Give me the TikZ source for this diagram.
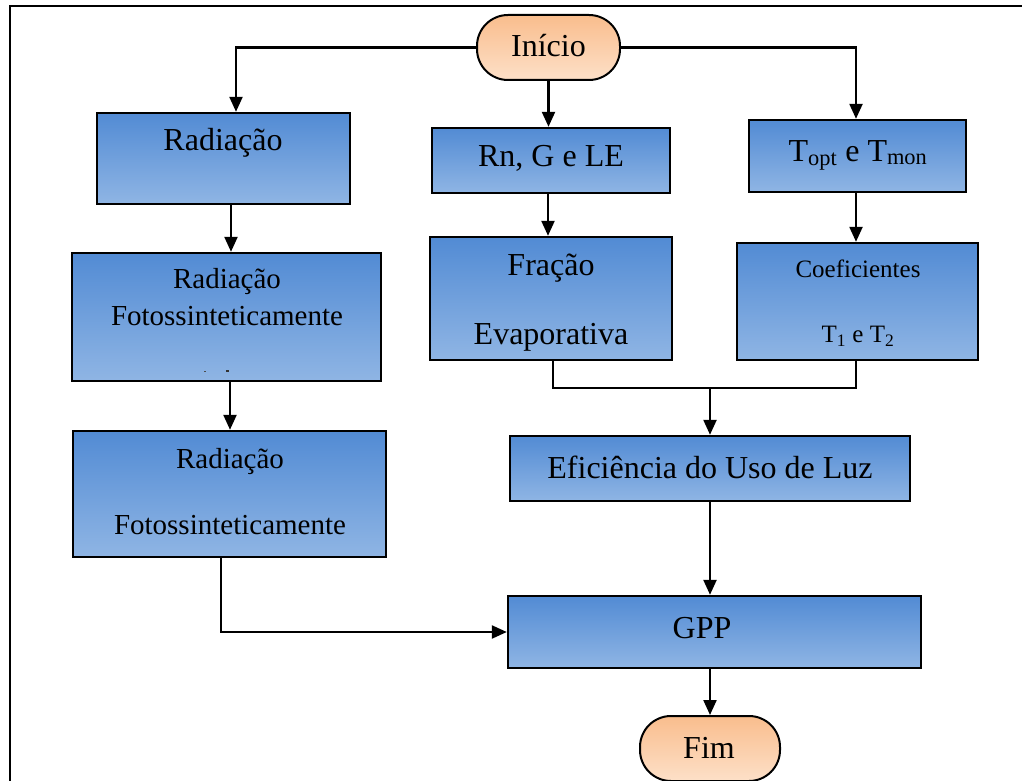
\documentclass[tikz,border=0pt]{standalone}
\usepackage{fontspec}
\setmainfont{Liberation Serif}
\usetikzlibrary{arrows.meta}
\definecolor{boxtop}{RGB}{82,139,212}
\definecolor{boxbot}{RGB}{143,181,228}
\definecolor{termtop}{RGB}{249,189,141}
\definecolor{termbot}{RGB}{253,224,200}
\begin{document}
\begin{tikzpicture}[x=1pt,y=-1pt,
  procbox/.style={draw=black, line width=2.4pt, top color=boxtop, bottom color=boxbot,
    inner sep=0pt, minimum width=#1},
  termbox/.style={draw=black, line width=2pt, top color=termtop, bottom color=termbot,
    rounded corners=31pt, inner sep=0pt, minimum height=65pt, minimum width=#1},
  lbl/.style={inner sep=0pt, font=\fontsize{32}{36}\selectfont},
  lblsm/.style={inner sep=0pt, font=\fontsize{29}{33}\selectfont},
  lblxs/.style={inner sep=0pt, font=\fontsize{25}{29}\selectfont},
  link/.style={draw=black, line width=2.3pt},
  arr/.style={link, -{Triangle[length=15pt,width=13pt]}}
]
\useasboundingbox (0,0) rectangle (1022,781);
\clip (0,0) rectangle (1022,781);
\fill[white] (0,0) rectangle (1022,781);
% outer frame
\draw[line width=2.4pt] (10,6) rectangle (1060,820);

% terminals
\node[termbox=143pt] (ini) at (548.5,47.5) {};
\node[lbl] at (548.5,46) {Início};
\node[termbox=140pt] (fim) at (710,748.5) {};
\node[lbl] at (709,748) {Fim};

% left column
\node[procbox=253pt, minimum height=91pt] (b1) at (223.5,158.5) {};
\node[lbl] at (223,143) {Radiação};
\node[procbox=309pt, minimum height=128pt] (b2) at (226.5,317) {};
\node[lblsm] at (227,282) {Radiação};
\node[lblsm] at (227,316) {Fotossinteticamente};
\fill[black!70] (203.5,370.5) rectangle (206,371.7);
\fill[black!80] (225.5,370.3) rectangle (228.5,371.8);
\node[procbox=313pt, minimum height=126pt] (b3) at (229.5,494) {};
\node[lblsm] at (230,462) {Radiação};
\node[lblsm] at (230,525) {Fotossinteticamente};

% middle column
\node[procbox=238pt, minimum height=65pt] (rn) at (551,160.5) {};
\node[lbl] at (551,158) {Rn, G e LE};
\node[procbox=242pt, minimum height=123pt] (fr) at (551,298.5) {};
\node[lbl] at (551,268) {Fração};
\node[lbl] at (551,337) {Evaporativa};

% right column
\node[procbox=217pt, minimum height=72pt] (tp) at (857.5,156) {};
\node[lbl] at (858,155) {T\textsubscript{opt} e T\textsubscript{mon}};
\node[procbox=241pt, minimum height=117pt] (co) at (857.5,301.5) {};
\node[lblxs] at (858,269) {Coeficientes};
\node[lblxs] at (858,336) {T\textsubscript{1} e T\textsubscript{2}};

% lower blocks
\node[procbox=400pt, minimum height=65pt] (ef) at (710,468.5) {};
\node[lbl] at (710,467) {Eficiência do Uso de Luz};
\node[procbox=413pt, minimum height=72pt] (gpp) at (714.5,632) {};
\node[lbl] at (702,628) {GPP};

% connectors
\draw[arr] (ini.west) -| (b1.north -| 236,0);
\draw[arr] (ini.east) -| (tp.north -| 856,0);
\draw[arr] (ini.south) -- (ini.south |- rn.north);
\draw[arr] (b1.south -| 231,0) -- (b2.north -| 231,0);
\draw[arr] (b2.south -| 230,0) -- (b3.north -| 230,0);
\draw[arr] (rn.south -| 548,0) -- (fr.north -| 548,0);
\draw[arr] (tp.south -| 856,0) -- (co.north -| 856,0);
\coordinate (jn) at (710,388);
\draw[link] (fr.south -| 553,0) |- (jn) -| (co.south -| 856,0);
\draw[arr] (jn) -- (ef.north -| jn);
\draw[arr] (ef.south) -- (gpp.north -| ef.south);
\draw[arr] (gpp.south -| 710,0) -- (fim.north);
\draw[arr] (b3.south -| 221,0) |- (gpp.west);
\end{tikzpicture}
\end{document}
